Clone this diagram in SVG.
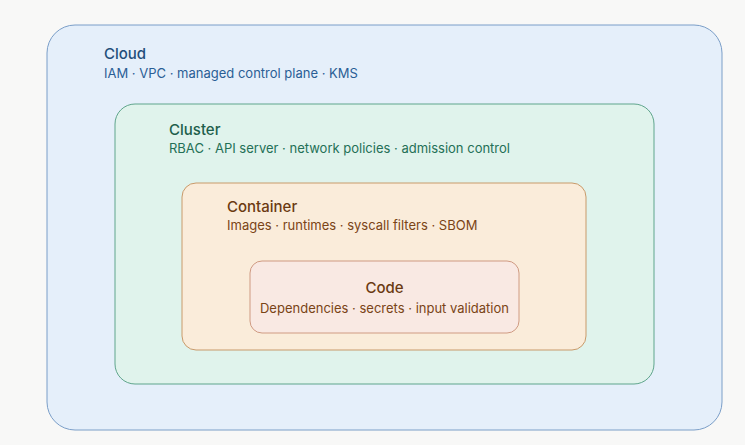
<svg xmlns="http://www.w3.org/2000/svg" width="745" height="445" viewBox="0 0 745 445">
<style>
text{font-family:"Inter","Noto Sans",sans-serif}
.t{font-size:15px;font-weight:500}
.s{font-size:13px}
</style>
<rect width="745" height="445" fill="#f8f8f7"/>
<g id="cloud"><rect x="47" y="25" width="675" height="405" rx="28" fill="#e5effa" stroke="#7a9ec8"/>
<text x="104" y="59" class="t" fill="#1f4e7a">Cloud</text>
<text x="104" y="78" class="s" fill="#2a5e95">IAM · VPC · managed control plane · KMS</text></g>
<g id="cluster"><rect x="115" y="104" width="539" height="280" rx="20" fill="#e0f3ec" stroke="#5fa58c"/>
<text x="169" y="135" class="t" fill="#1d5e4b">Cluster</text>
<text x="169" y="153" class="s" fill="#247056">RBAC · API server · network policies · admission control</text></g>
<g id="container"><rect x="182" y="183" width="404" height="167" rx="14" fill="#faecda" stroke="#c89a6a"/>
<text x="227" y="212" class="t" fill="#6b3a12">Container</text>
<text x="227" y="230" class="s" fill="#7a4416">Images · runtimes · syscall filters · SBOM</text></g>
<g id="code"><rect x="250" y="261" width="269" height="72" rx="12" fill="#f9e9e3" stroke="#cf9a82"/>
<text x="384.5" y="293" class="t" fill="#6b3a12" text-anchor="middle">Code</text>
<text x="384.5" y="313" class="s" fill="#7a4416" text-anchor="middle">Dependencies · secrets · input validation</text></g>
<g id="connectors"/>
</svg>
